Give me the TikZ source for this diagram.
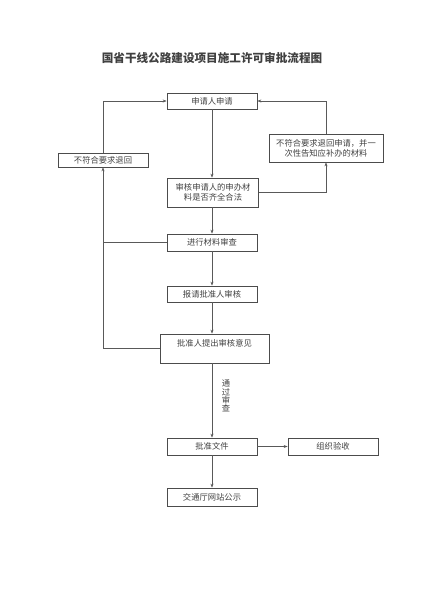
\documentclass[tikz,border=0pt]{standalone}
\usepackage{fontspec}
\setmainfont{Noto Sans CJK SC}
\usetikzlibrary{arrows.meta}

\begin{document}
\begin{tikzpicture}[x=1pt, y=-1pt,
        every node/.style={font=\fontsize{8.3}{10}\selectfont, text=black!75},
        box/.style={draw=black!70, line width=0.7pt, inner sep=2pt, minimum width=90, minimum height=16, align=center},
        flow/.style={draw=black!65, line width=0.6pt, -{Stealth[length=4pt, width=3pt]}},
        link/.style={draw=black!65, line width=0.6pt}]
    \useasboundingbox (0,0) rectangle (424,600);

    \node (title) at (212,58) {\fontsize{11.6}{12}\selectfont\bfseries 国省干线公路建设项目施工许可审批流程图};

    \node[box] (apply)   at (212,101)   {申请人申请};
    \node[box] (backl)   at (103,160)   [minimum height=14] {不符合要求退回};
    \node[box] (backr)   at (326,148)   [minimum width=114, minimum height=28] {不符合要求退回申请，并一\\次性告知应补办的材料};
    \node[box] (check)   at (213,192.5) [minimum width=91, minimum height=29] {审核申请人的申办材\\料是否齐全合法};
    \node[box] (review)  at (212,242.5) [minimum height=17] {进行材料审查};
    \node[box] (report)  at (212,294)   {报请批准人审核};
    \node[box] (opinion) at (214.5,348.5) [minimum width=109, text height=10, text depth=15] {批准人提出审核意见};
    \node[box] (approve) at (212,446.5) [minimum height=17] {批准文件};
    \node[box] (accept)  at (333,446.5) [minimum height=17] {组织验收};
    \node[box] (publish) at (212,497)   [minimum height=18] {交通厅网站公示};
    \node (pass) at (226,396) [align=center, font=\fontsize{8.3}{8.3}\selectfont] {通\\过\\审\\查};

    % main line
    \draw[flow] (apply) -- (check.north -| apply);
    \draw[flow] (check.south -| apply) -- (review);
    \draw[flow] (review) -- (report);
    \draw[flow] (report) -- (report.south |- opinion.north);
    \draw[flow] (report.south |- opinion.south) -- (approve);
    \draw[flow] (approve) -- (accept);
    \draw[flow] (approve) -- (publish);

    % returns
    \draw[flow] (check.east) -| (backr.south);
    \draw[flow] (backr.north) |- (apply.east);
    \draw[flow] (opinion.west) -| (backl.south);
    \draw[link] (review.west) -- (review.west -| backl);
    \draw[flow] (backl.north) |- (apply.west);
\end{tikzpicture}
\end{document}
